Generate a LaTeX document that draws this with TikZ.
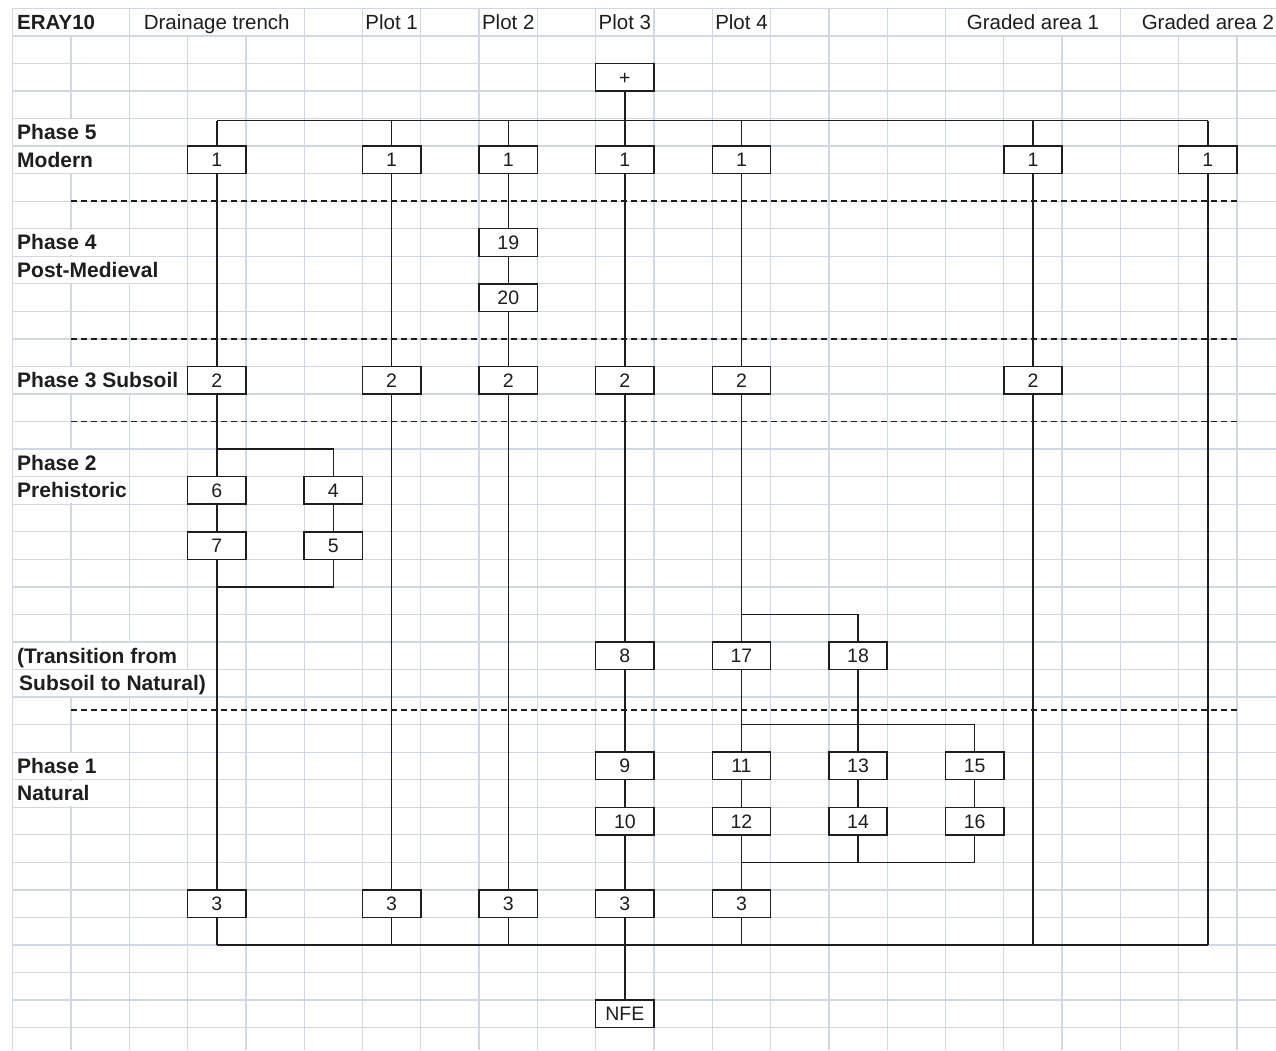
\documentclass[tikz,border=0pt]{standalone}
\usepackage{fontspec}
\setmainfont{Liberation Sans}
\definecolor{gridc}{RGB}{208,215,229}
\definecolor{ink}{RGB}{30,30,30}
\newcommand\CX[1]{12.7+58.3*(#1+0.5)}
\newcommand\RY[1]{8.3+27.55*(#1+0.5)}
\newcommand\GX[1]{12.7+58.3*(#1)}
\newcommand\GY[1]{8.3+27.55*(#1)}
\tikzset{
  gridline/.style={draw=gridc, line width=1.3pt},
  cellbox/.style={draw=ink, line width=1.5pt, fill=white, minimum width=58.3pt,
    minimum height=27.55pt, inner sep=0pt, text height=14pt, text depth=0pt,
    font=\fontsize{19.5}{22}\selectfont, text=ink},
  conn/.style={draw=ink, line width=1.5pt},
  phaseline/.style={draw=ink, line width=1.4pt, dash pattern=on 6pt off 4pt},
  lbl/.style={anchor=base west, inner sep=0pt, font=\bfseries\fontsize{21}{24}\selectfont, text=ink},
  hdr/.style={anchor=base, inner sep=0pt, font=\fontsize{20.5}{24}\selectfont, text=ink},
}
\newcommand\mask[3]{\fill[white] ({\GX{#2}+0.8},{\GY{#1}+0.8}) rectangle ({\GX{#3+1}-0.8},{\GY{#1+1}-0.8});}
\newcommand\bx[4]{\node[cellbox] (#1) at ({\CX{#2}},{\RY{#3}}) {#4};}
\begin{document}
\begin{tikzpicture}[x=1pt,y=-1pt]
\useasboundingbox (0,0) rectangle (1276,1050);
\fill[white] (0,0) rectangle (1276,1050);
% grid
\foreach \c in {0,...,21} \draw[gridline] ({\GX{\c}},8.3) -- ({\GX{\c}},1050);
\foreach \r in {0,...,37} \draw[gridline] (12.7,{\GY{\r}}) -- (1276,{\GY{\r}});
% overflowing text masks
\mask{0}{0}{1}
\mask{0}{2}{4}
\mask{0}{16}{18}
\fill[white] ({\GX{19}+0.8},{\GY{0}+0.8}) rectangle (1276,{\GY{1}-0.8});
\mask{4}{0}{1}
\mask{5}{0}{1}
\mask{8}{0}{1}
\mask{9}{0}{2}
\mask{13}{0}{2}
\mask{16}{0}{1}
\mask{17}{0}{1}
\mask{23}{0}{2}
\mask{24}{0}{3}
\mask{27}{0}{1}
\mask{28}{0}{1}
% header
\node[lbl, font=\bfseries\fontsize{20.5}{24}\selectfont] (hERAY) at (17,{\RY{0}+7.3}) {ERAY10};
\node[hdr] (hDT) at ({\CX{3}},{\RY{0}+7.3}) {Drainage trench};
\node[hdr] (hP1) at ({\CX{6}},{\RY{0}+7.3}) {Plot 1};
\node[hdr] (hP2) at ({\CX{8}},{\RY{0}+7.3}) {Plot 2};
\node[hdr] (hP3) at ({\CX{10}},{\RY{0}+7.3}) {Plot 3};
\node[hdr] (hP4) at ({\CX{12}},{\RY{0}+7.3}) {Plot 4};
\node[hdr] (hG1) at ({\CX{17}},{\RY{0}+7.3}) {Graded area 1};
\node[hdr] (hG2) at ({\CX{20}},{\RY{0}+7.3}) {Graded area 2};
% phase labels
\node[lbl] (l5a) at (17,{\RY{4}+7.5}) {Phase 5};
\node[lbl] (l5b) at (17,{\RY{5}+7.5}) {Modern};
\node[lbl] (l4a) at (17,{\RY{8}+7.5}) {Phase 4};
\node[lbl] (l4b) at (17,{\RY{9}+7.5}) {Post-Medieval};
\node[lbl] (l3) at (17,{\RY{13}+7.5}) {Phase 3 Subsoil};
\node[lbl] (l2a) at (17,{\RY{16}+7.5}) {Phase 2};
\node[lbl] (l2b) at (17,{\RY{17}+7.5}) {Prehistoric};
\node[lbl] (lta) at (17,{\RY{23}+7.5}) {(Transition from};
\node[lbl] (ltb) at (19,{\RY{24}+7.5}) {Subsoil to Natural)};
\node[lbl] (l1a) at (17,{\RY{27}+7.5}) {Phase 1};
\node[lbl] (l1b) at (17,{\RY{28}+7.5}) {Natural};
% phase separators
\draw[phaseline] (71,{\GY{7}}) -- (1237,{\GY{7}});
\draw[phaseline] (71,{\GY{12}}) -- (1237,{\GY{12}});
\draw[phaseline] (71,{\GY{15}}) -- (1237,{\GY{15}});
\draw[phaseline] (71,710) -- (1237,710);
% boxes
\bx{plus}{10}{2}{+}
\bx{d1}{3}{5}{1}
\bx{a1}{6}{5}{1}
\bx{b1}{8}{5}{1}
\bx{c1}{10}{5}{1}
\bx{e1}{12}{5}{1}
\bx{g1}{17}{5}{1}
\bx{h1}{20}{5}{1}
\bx{b19}{8}{8}{19}
\bx{b20}{8}{10}{20}
\bx{d2}{3}{13}{2}
\bx{a2}{6}{13}{2}
\bx{b2}{8}{13}{2}
\bx{c2}{10}{13}{2}
\bx{e2}{12}{13}{2}
\bx{g2}{17}{13}{2}
\bx{d6}{3}{17}{6}
\bx{d4}{5}{17}{4}
\bx{d7}{3}{19}{7}
\bx{d5}{5}{19}{5}
\bx{c8}{10}{23}{8}
\bx{e17}{12}{23}{17}
\bx{e18}{14}{23}{18}
\bx{c9}{10}{27}{9}
\bx{e11}{12}{27}{11}
\bx{e13}{14}{27}{13}
\bx{e15}{16}{27}{15}
\bx{c10}{10}{29}{10}
\bx{e12}{12}{29}{12}
\bx{e14}{14}{29}{14}
\bx{e16}{16}{29}{16}
\bx{d3}{3}{32}{3}
\bx{a3}{6}{32}{3}
\bx{b3}{8}{32}{3}
\bx{c3}{10}{32}{3}
\bx{e3}{12}{32}{3}
\bx{nfe}{10}{36}{NFE}
% junction coordinates
\coordinate (tl) at ({\CX{3}},120.5);
\coordinate (tr) at ({\CX{20}},120.5);
\coordinate (bl) at ({\CX{3}},945);
\coordinate (br) at ({\CX{20}},945);
\coordinate (pa) at ({\CX{3}},449.1);
\coordinate (pb) at ({\CX{5}},449.1);
\coordinate (pj1) at ({\CX{3}},587);
\coordinate (pj2) at ({\CX{5}},587);
\coordinate (q1) at ({\CX{12}},614.3);
\coordinate (q2) at ({\CX{14}},614.3);
\coordinate (r1) at ({\CX{12}},724.3);
\coordinate (r2) at ({\CX{16}},724.3);
\coordinate (s1) at ({\CX{12}},862.3);
\coordinate (s2) at ({\CX{16}},862.3);
% buses
\draw[conn] (tl) -- (tr);
\draw[conn] (bl) -- (br);
\draw[conn] (plus) -- (c1);
\foreach \n in {d1,a1,b1,e1,g1,h1} \draw[conn] (\n.north) -- (\n.north |- tl);
\foreach \n in {d3,a3,b3,e3,g2,h1} \draw[conn] (\n.south) -- (\n.south |- bl);
% drainage trench
\draw[conn] (d1) -- (d2);
\draw[conn] (d2) -- (d6);
\draw[conn] (d6) -- (d7);
\draw[conn] (d7) -- (d3);
\draw[conn] (pa) -- (pb) -- (d4);
\draw[conn] (d4) -- (d5);
\draw[conn] (d5) -- (pj2) -- (pj1);
% plot 1
\draw[conn] (a1) -- (a2);
\draw[conn] (a2) -- (a3);
% plot 2
\draw[conn] (b1) -- (b19);
\draw[conn] (b19) -- (b20);
\draw[conn] (b20) -- (b2);
\draw[conn] (b2) -- (b3);
% plot 3
\draw[conn] (c1) -- (c2);
\draw[conn] (c2) -- (c8);
\draw[conn] (c8) -- (c9);
\draw[conn] (c9) -- (c10);
\draw[conn] (c10) -- (c3);
\draw[conn] (c3) -- (nfe);
% plot 4
\draw[conn] (e1) -- (e2);
\draw[conn] (e2) -- (e17);
\draw[conn] (e17) -- (e11);
\draw[conn] (e11) -- (e12);
\draw[conn] (e12) -- (e3);
\draw[conn] (q1) -- (q2) -- (e18);
\draw[conn] (e18) -- (e13);
\draw[conn] (e13) -- (e14);
\draw[conn] (r1) -- (r2) -- (e15);
\draw[conn] (e15) -- (e16);
\draw[conn] (e16) -- (s2) -- (s1);
\draw[conn] (e14) -- (e14 |- s1);
% graded area 1
\draw[conn] (g1) -- (g2);
\end{tikzpicture}
\end{document}
